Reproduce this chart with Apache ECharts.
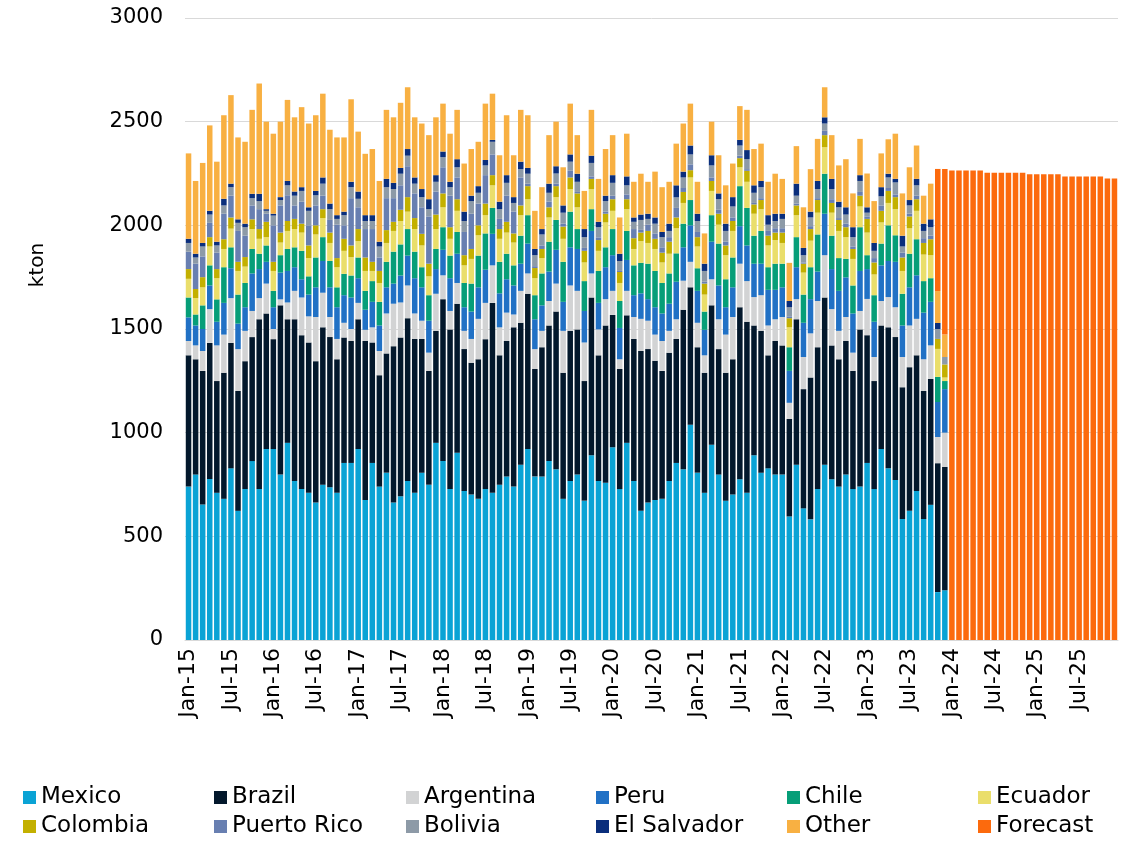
<!DOCTYPE html>
<html><head><meta charset="utf-8">
<script src="https://cdn.jsdelivr.net/npm/echarts/dist/echarts.min.js"></script>
<style>html,body{margin:0;padding:0;background:#fff}#c{width:1132px;height:842px}</style>
</head><body><div id="c"></div><script>
// Month categories Jan-15 .. Dec-25
const monthNames = ['Jan','Feb','Mar','Apr','May','Jun','Jul','Aug','Sep','Oct','Nov','Dec'];
const years = ['15','16','17','18','19','20','21','22','23','24','25'];
const categories = [];
years.forEach(y => monthNames.forEach(m => categories.push(m + '-' + y)));

const mexico = [740,798,654,777,710,681,828,623,728,863,728,921, 921,798,951,767,728,710,663,749,737,710,854,854,
  921,675,854,740,807,663,693,767,710,807,749,951, 863,728,903,719,702,681,728,710,749,789,740,845,
  921,789,789,863,824,681,767,798,672,891,767,758, 930,728,951,767,623,663,675,681,767,854,824,1038,
  807,710,942,798,672,702,775,710,891,807,828,798, 798,596,845,635,582,728,845,775,740,798,728,740,
  854,728,921,828,772,584,623,719,584,652,231,240];
const brazil = [633,556,644,656,539,608,605,578,617,598,819,654, 530,816,596,780,742,725,682,759,724,644,605,588,
  626,767,581,537,575,754,766,785,742,645,549,540, 781,770,719,684,635,673,723,916,624,653,768,685,
  749,518,623,654,760,608,724,700,577,761,606,759, 638,579,615,685,771,740,672,617,619,598,769,663,
  605,579,672,605,617,652,830,825,626,684,545,644, 623,470,702,575,684,684,807,646,614,644,570,758,
  616,521,596,680,689,635,693,654,617,607,622,595];
const argentina = [69,67,96,163,172,184,216,202,146,126,102,144, 49,29,81,137,182,126,213,167,97,98,71,58,
  79,54,73,117,193,205,169,158,123,88,88,179, 115,89,100,88,115,195,175,181,135,137,62,154,
  98,96,79,118,135,202,219,186,186,116,125,127, 116,47,118,106,155,137,126,144,105,95,140,123,
  118,84,126,144,184,204,210,196,137,172,144,105, 137,78,97,155,213,223,204,175,137,116,88,89,
  175,116,118,146,144,146,201,176,153,162,126,165];
const peru = [114,96,106,114,114,153,144,123,114,181,140,105, 105,129,152,114,88,105,143,153,143,153,133,152,
  119,97,123,123,126,97,130,144,170,161,154,119, 123,158,141,114,132,152,160,152,164,161,140,131,
  144,144,123,142,163,140,184,202,152,205,128,154, 172,151,149,105,123,104,132,133,131,181,161,176,
  154,123,181,163,132,143,181,172,161,152,172,142, 143,154,154,165,165,142,200,193,193,191,189,193,
  144,170,172,174,219,152,184,210,225,210,169,210];
const chile = [96,53,114,97,108,172,101,140,117,118,74,79, 79,84,106,96,137,88,144,115,127,96,103,106,
  100,91,100,114,123,154,150,128,128,97,123,97, 109,109,105,117,135,153,175,125,152,123,97,135,
  137,116,154,144,144,193,172,96,144,105,154,96, 126,130,140,144,147,171,175,147,146,137,114,122,
  109,88,128,202,135,144,193,181,135,158,109,126, 114,114,145,136,154,179,193,161,158,89,135,211,
  67,128,105,172,128,153,162,174,152,114,121,39];
const ecuador = [90,79,87,91,102,88,90,114,79,96,72,40, 96,61,87,88,88,88,111,92,87,97,111,89,
  79,96,49,91,91,100,113,84,109,105,91,96, 96,81,102,85,119,98,88,109,111,102,110,99,
  77,82,74,117,110,111,109,105,90,97,97,120, 88,87,105,79,105,100,106,99,95,121,100,109,
  105,82,117,91,116,128,91,126,106,105,105,114, 100,96,106,106,128,105,128,111,131,105,128,100,
  109,100,102,108,126,110,123,137,128,111,135,17];
const colombia = [47,44,49,45,44,47,54,44,46,47,47,74, 44,48,48,49,43,61,44,43,50,44,58,56,
  58,65,44,58,62,44,54,70,53,56,61,70, 67,56,56,49,48,48,56,49,47,52,44,47,
  63,49,44,49,53,59,56,67,56,49,52,42, 56,53,48,52,41,58,49,47,58,52,53,35,
  45,53,48,53,47,48,44,53,45,44,47,36, 50,44,47,43,56,61,58,47,53,48,48,52,
  66,58,56,58,58,65,57,56,56,77,48,63];
const puertoRico = [84,122,100,69,79,123,105,149,103,67,96,39, 176,131,124,65,106,97,96,65,61,161,65,228,
  105,137,158,65,154,114,118,149,119,128,228,111, 126,152,105,112,170,105,137,100,49,126,105,135,
  12,9,17,27,12,14,32,7,14,12,13,10, 17,5,23,44,13,30,26,26,22,46,19,28,
  25,9,17,19,18,17,12,8,7,9,23,21, 21,9,9,6,14,9,21,18,9,17,12,18,
  12,21,26,14,13,23,13,17,23,17,0,0];
const bolivia = [42,30,48,40,35,40,41,39,41,35,39,14, 47,26,48,47,52,70,49,58,52,28,49,53,
  41,39,39,53,53,44,56,51,47,49,35,47, 49,41,49,53,61,52,47,61,47,62,42,40,
  48,53,53,43,49,53,44,49,52,65,49,51, 62,48,44,35,48,28,47,49,30,51,51,48,
  53,52,58,51,52,53,49,48,49,53,30,35, 45,44,38,35,42,44,35,49,52,44,45,53,
  18,35,44,51,58,30,40,50,35,41,48,36];
const elSalvador = [20,18,17,18,18,32,17,17,17,21,35,8, 9,14,21,20,18,17,21,30,27,18,17,26,
  35,28,28,23,40,30,28,32,30,39,48,32, 27,26,39,45,26,32,26,9,36,37,28,36,
  28,30,26,44,35,35,35,39,39,35,26,26, 37,35,43,21,26,25,30,25,35,58,28,43,
  35,35,49,28,35,45,27,44,36,30,46,35, 25,30,58,35,28,39,30,49,27,35,48,28,
  26,38,44,18,17,52,26,31,35,38,29,0];
const other = [412,351,386,412,386,403,427,395,395,405,532,422, 386,364,391,358,386,404,365,404,356,375,358,398,
  289,296,319,293,333,316,314,298,290,316,309,279, 231,232,238,232,225,214,272,223,224,289,202,250,
  254,184,202,234,215,184,245,186,184,221,207,225, 193,175,206,172,197,154,221,216,202,201,232,202,
  154,146,162,184,185,162,163,194,175,180,161,193, 168,184,181,196,205,203,145,211,175,232,163,175,
  163,202,163,166,218,204,158,161,135,172,154,108];
// Forecast: Nov-23 .. Dec-25 (first two are the remainder on partial months)
const forecastStart = 106;
const forecast = [589,799,
  2264,2264,2264,2264,2264,2254,2254,2254,2254,2254,2254,2246,
  2246,2246,2246,2246,2236,2236,2236,2236,2236,2236,2226,2226];
const yTicks = [0,500,1000,1500,2000,2500,3000];

const FONT = '"DejaVu Sans", "Liberation Sans", Arial, sans-serif';
const seriesDefs = [
  ['Mexico', mexico, '#0AA3D5'],
  ['Brazil', brazil, '#03182C'],
  ['Argentina', argentina, '#D2D3D4'],
  ['Peru', peru, '#2171C5'],
  ['Chile', chile, '#069E78'],
  ['Ecuador', ecuador, '#EADE6B'],
  ['Colombia', colombia, '#C3B000'],
  ['Puerto Rico', puertoRico, '#687FB1'],
  ['Bolivia', bolivia, '#8D9AA7'],
  ['El Salvador', elSalvador, '#0A2E7C'],
  ['Other', other, '#F8B042'],
  ['Forecast', new Array(forecastStart).fill(null).concat(forecast), '#FC6A0D']
];

const series = seriesDefs.map((d, i) => ({
  name: d[0], type: 'bar', stack: 'total', data: d[1],
  itemStyle: { color: d[2] },
  barCategoryGap: '22%',
  emphasis: { disabled: true }
}));

const legendLeft = [23, 214, 406, 596, 787, 978];
const legendTop = [786, 815];
const legends = seriesDefs.map((d, i) => ({
  data: [d[0]],
  left: legendLeft[i % 6],
  top: legendTop[Math.floor(i / 6)],
  padding: 0,
  icon: 'rect', itemWidth: 13, itemHeight: 13, itemGap: 0,
  selectedMode: false,
  textStyle: { fontSize: 23, fontFamily: FONT, color: '#000', padding: [0, 0, 0, 0] }
}));

const chart = echarts.init(document.getElementById('c'), null, { renderer: 'canvas' });
chart.setOption({
  animation: false,
  backgroundColor: '#fff',
  grid: { left: 185, right: 14, top: 18, bottom: 202, containLabel: false },
  legend: legends,
  xAxis: {
    type: 'category', data: categories,
    axisLine: { show: true, lineStyle: { color: '#D9D9D9' } },
    axisTick: { show: false },
    axisLabel: { interval: 5, rotate: 90, fontSize: 22, fontFamily: FONT, color: '#000', margin: 8 }
  },
  yAxis: {
    type: 'value', min: yTicks[0], max: yTicks[yTicks.length - 1], interval: 500,
    axisLine: { show: false }, axisTick: { show: false },
    splitLine: { lineStyle: { color: '#D9D9D9', width: 1 } },
    axisLabel: { fontSize: 21, fontFamily: FONT, color: '#000', margin: 22, formatter: v => String(v) }
  },
  graphic: [{
    type: 'text', x: 38, y: 265, rotation: Math.PI / 2,
    style: { text: 'kton', font: '20px ' + FONT, fill: '#000', textAlign: 'center', textVerticalAlign: 'middle' }
  }],
  series: series
});
</script></body></html>
